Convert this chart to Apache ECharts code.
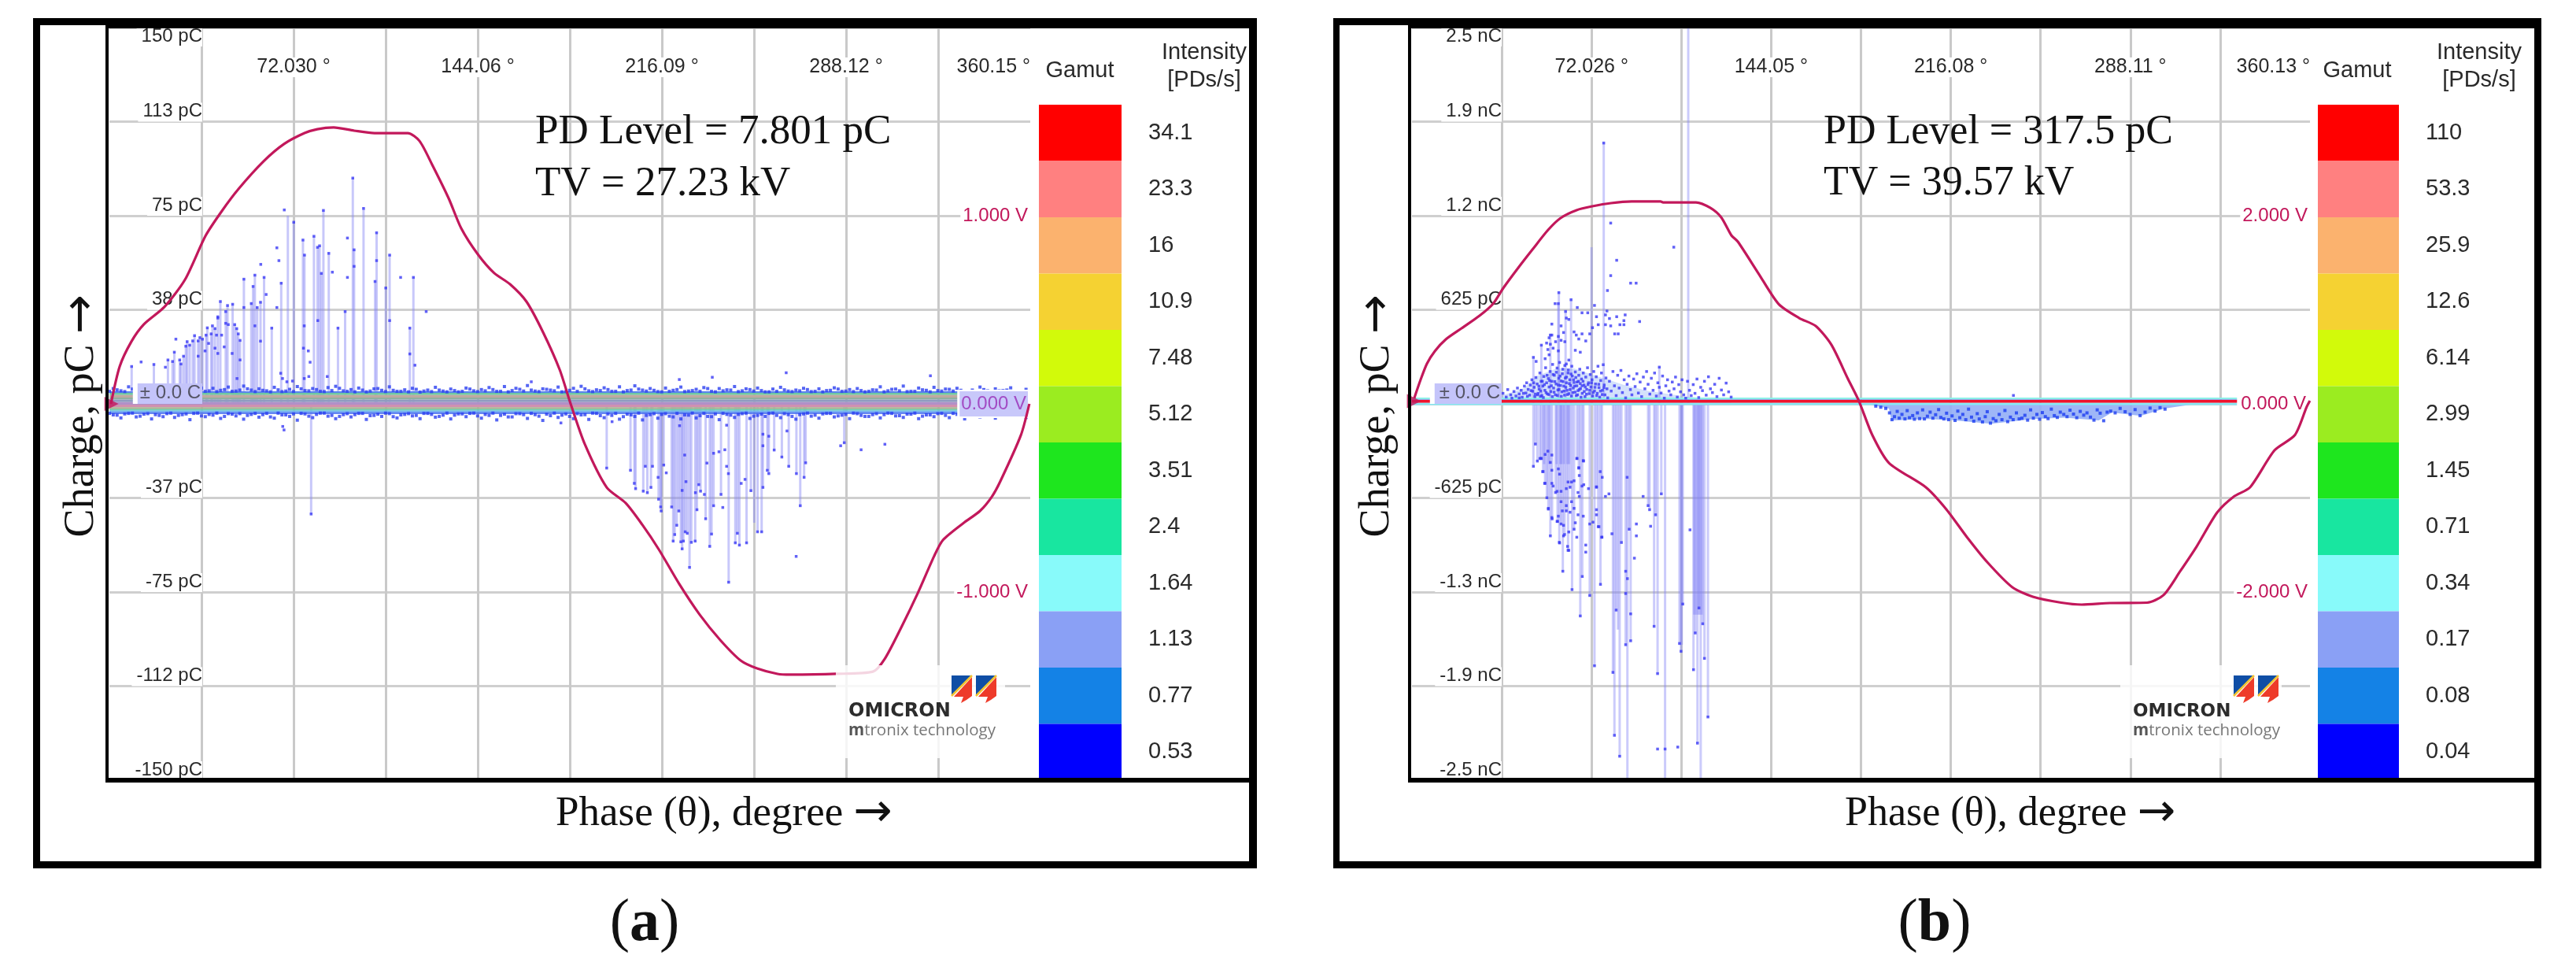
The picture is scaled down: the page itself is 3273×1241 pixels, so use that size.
<!DOCTYPE html>
<html><head><meta charset="utf-8">
<style>html,body{margin:0;padding:0;background:#fff}#c{width:3273px;height:1241px}#c canvas{filter:blur(.6px)}</style>
<script src="https://cdn.jsdelivr.net/npm/echarts@6/dist/echarts.min.js"></script>
</head><body><div id="c"></div>
<script>
// ---------- tick labels ----------
const phaseTicksA = ['', '', '72.030 °', '', '144.06 °', '', '216.09 °', '', '288.12 °', '', '360.15 °'];
const phaseTicksB = ['', '', '72.026 °', '', '144.05 °', '', '216.08 °', '', '288.11 °', '', '360.13 °'];
const chargeTicksA = ['-150 pC', '-112 pC', '-75 pC', '-37 pC', '± 0.0 C', '38 pC', '75 pC', '113 pC', '150 pC'];
const chargeTicksB = ['-2.5 nC', '-1.9 nC', '-1.3 nC', '-625 pC', '± 0.0 C', '625 pC', '1.2 nC', '1.9 nC', '2.5 nC'];
const voltTicksA = ['', '-1.000 V', '0.000 V', '1.000 V', ''];
const voltTicksB = ['', '-2.000 V', '0.000 V', '2.000 V', ''];
const intensityA = ['34.1', '23.3', '16', '10.9', '7.48', '5.12', '3.51', '2.4', '1.64', '1.13', '0.77', '0.53'];
const intensityB = ['110', '53.3', '25.9', '12.6', '6.14', '2.99', '1.45', '0.71', '0.34', '0.17', '0.08', '0.04'];
const gamutColors = ['#ff0000', '#ff8080', '#fbb26e', '#f5d232', '#d2fa0a', '#9bec20', '#1ee61e', '#18e6a0', '#88fafa', '#8aa0f5', '#1482e6', '#0000ff'];

// ---------- test voltage traces [phase deg, volts] ----------
const voltageA = [[0.6,0],[4,.198],[8.6,.331],[13.5,.423],[21.5,.515],[29.6,.661],[37.6,.893],[44,1.025],[50.5,1.142],[60.3,1.289],[68.3,1.381],[76.3,1.439],[81.3,1.46],[87.7,1.469],[95.7,1.452],[103.7,1.439],[116.7,1.439],[121.3,1.397],[126.2,1.272],[132.7,1.092],[137.6,.933],[144.1,.795],[150.5,.695],[156.7,.636],[163.1,.544],[169.6,.381],[176.1,.182],[180.4,0],[185.9,-.213],[194.5,-.444],[201.9,-.527],[208.4,-.642],[214.9,-.774],[222.9,-.958],[230.9,-1.121],[238.9,-1.255],[246.9,-1.364],[253.3,-1.406],[261.3,-1.435],[266.3,-1.439],[284.1,-1.435],[298.6,-1.423],[303.2,-1.356],[309.7,-1.188],[316.1,-1.008],[322.6,-.808],[326,-.724],[334,-.634],[340.5,-.569],[345.1,-.494],[348.5,-.41],[356.5,-.166],[359.8,0]];
const voltageB = [[0.9,.059],[3.5,.259],[6,.427],[9.2,.561],[13.6,.686],[19.9,.803],[27.1,.937],[32.5,1.063],[36.6,1.23],[42.9,1.456],[48.3,1.64],[54.6,1.849],[59.6,1.975],[66,2.059],[72.3,2.1],[79.8,2.134],[88.1,2.151],[99.7,2.151],[100.7,2.142],[113.9,2.142],[119.6,2.084],[124,1.983],[128.1,1.791],[130.7,1.724],[138.9,1.389],[147.1,1.059],[155.3,.912],[161.9,.828],[168.2,.628],[174.8,.268],[179.2,.033],[184.6,-.331],[191.3,-.628],[206.1,-.887],[214.3,-1.121],[222.5,-1.414],[230.7,-1.682],[240.8,-1.95],[249,-2.05],[260.4,-2.113],[268.6,-2.134],[279.9,-2.117],[294.8,-2.113],[301.4,-2.033],[308,-1.782],[314.7,-1.515],[322.9,-1.155],[329.5,-.987],[336.1,-.887],[345.9,-.494],[354.1,-.331],[358.8,-.033],[360.1,.033]];

// ---------- PD pulses with a stem and a dot [phase deg, pC] ----------
const stemsA = [[8.7,14.9],[17.4,15.7],[22.9,17.5],[24.7,16.9],[25.4,20.6],[27.5,17.5],[28,15.9],[29,19],[29.9,23],[30.4,24.8],[31.4,23.4],[32.6,25.1],[33.3,27.2],[34.7,25.1],[35.4,26.4],[36.4,25.8],[37.8,27.4],[38.3,30.3],[39.8,27.9],[40.3,31.1],[41.3,30],[42.4,34.7],[43.4,40.8],[45.5,36.8],[46.2,39.2],[48.2,39.7],[49,31.6],[49.8,30],[50.4,27.9],[51.1,25.3],[52.6,49.7],[55.5,40],[56.2,46.8],[56.9,51.3],[57.8,38.4],[59.1,40.5],[60.5,50.4],[63.5,30.2],[67.2,48.1],[72.1,72.4],[75.7,65.3],[76.3,59.3],[80,66.8],[81.4,62.4],[82.2,63],[82.9,52],[83.7,77.1],[85.8,60],[89.4,30.2],[92.2,36.8],[95.2,90],[95.7,61.4],[99.4,77.9],[103.9,48.8],[104.5,68.2],[108.1,46.2],[109.6,59.3],[117.5,30.2],[118.9,50.4],
[78.9,-43.9],[194.5,-25.6],[203.8,-26.5],[205.3,-31.7],[205.8,-33.8],[208.8,-34.8],[209.6,-24.9],[210.4,-35.4],[211.8,-33.3],[212.4,-24.9],[214.8,-38],[215.6,-41.1],[215.8,-42.7],[216.8,-24.4],[219.9,-41.1],[220.5,-54.7],[221.1,-52.1],[221.9,-48.4],[222.7,-42.7],[223.5,-55],[224,-57.8],[224.5,-54.7],[225.2,-51],[226,-51.6],[226.9,-65.2],[227.6,-55.2],[229.1,-54.7],[229.8,-42.2],[230.5,-32.2],[231.2,-34.8],[233.2,-45.8],[234.8,-56.8],[235.5,-51.9],[236.3,-40.6],[239.2,-36.1],[242.2,-71.1],[244.8,-55.4],[245.6,-51.6],[246.4,-56.3],[249.2,-55.4],[250.9,-34.6],[253.5,-51],[255.1,-51],[255.6,-33.3],[257.3,-26.5],[257.9,-27.8],[260,-18.4],[263,-21.2],[265.7,-24.9],[268.7,-27.8],[270.2,-40.6],[271.7,-29.3],[272.3,-23.5],[287.4,-15.5]];
const stemOnlyA = [[69.8,75],[252.2,-47.4]];
const dotsA = [[12.4,16.7],[21.9,14.6],[26,25.8],[65.5,62.2],[66.3,57.1],[59.2,55.6],[68.4,77.3],[65.5,38.4],[61.3,43.6],[87.2,52.5],[93.1,66.1],[93.1,50.4],[113.9,50.4],[123.9,36.8],[77.8,21.1],[78.5,16.6],[75.9,22.2],[78,10.9],[76.2,10.1],[81.5,33.2],[85.2,10.9],[76.2,31.1],[95.7,54.8],[104.5,57.1],[109.6,33.2],[117.5,19.9],[119.5,15.4],[42.4,34.2],[45.5,32.1],[46.5,31.6],[43.9,27.4],[41.9,27.4],[41.3,22.2],[42.4,20.1],[44.9,22.7],[48,20.1],[38.8,24.1],[37.4,21.1],[34.7,19],[51.1,17.5],[49.9,10.1],[67,12.2],[67.7,10.1],[69.4,8.8],[71.6,9.1],[59.1,25],[56.9,31.1],[52.6,38.4],
[268.6,-60.8],[286,-16.7],[294,-18.3],[239.9,-41.3],[240.7,-18.3],[236.3,-19.7],[238.4,-19.1],[233.7,-23.6],[225,-20.4],[217.8,-27.5],[214.6,-29.3],[225.5,-31],[224,-34.5],[229.2,-35.4],[232.7,-36.1],[247.1,-31.7],[248.6,-30.1],[241.4,-24.9],[242.1,-27.8],[176.6,-7.6],[196.6,-7.1],[223,-8.7],[241.4,-8.5],[265,-10.8],[255.6,-12.1],[255.6,-16.7],[257.9,-12.9],
[264.7,12.4],[235.8,10.6],[222.9,9.7],[321.1,11.2],[165,8.8],[68.3,-10.4],[67.8,-9],[303.3,-16.1]];

// noise fringe around the (a) baseline: readings per 3 degrees, two passes offset by half a step
const fringeTopA = [6.1,5.2,6.8,5.0,5.9,7.2,5.1,6.4,5.3,6.9,5.6,7.4,5.0,6.2,5.4,6.7,5.1,7.1,5.5,6.0,5.2,6.6,4.9,5.8,6.9,5.3,6.1,5.0,6.5,7.0,5.2,5.7,6.3,4.8,6.0,5.4,6.8,5.0,5.6,6.2,4.7,5.5,6.6,5.1,5.9,4.8,6.3,5.2,5.7,6.5,5.0,6.9,5.3,5.8,7.3,5.1,6.0,5.5,6.7,4.9,6.2,7.0,5.2,5.6,6.4,5.0,6.8,5.3,7.2,5.5,6.1,4.9,6.3,5.4,6.7,5.1,5.8,6.5,5.0,6.1,5.6,6.9,5.2,5.7,6.3,4.8,5.9,6.6,5.1,5.5,6.2,4.9,6.0,5.3,6.4,5.0,5.7,6.1,4.8,5.6,6.8,5.2,5.9,7.1,5.0,6.3,5.4,6.6,5.1,5.8,6.2,4.9,5.5,6.7,5.2,6.0,5.3,6.4,5.0,5.8];
const fringeTop2A = [5.0,5.6,4.9,5.9,4.8,5.3,5.8,4.9,6.1,5.0,5.4,4.8,6.3,5.2,4.9,5.7,5.0,5.5,6.0,4.9,5.4,4.8,5.6,5.1,4.9,6.0,5.2,5.7,4.9,5.3,6.2,5.0,4.8,5.5,5.1,6.1,4.9,5.4,5.0,4.8,5.8,5.1,4.9,5.5,4.8,5.3,5.0,5.9,4.9,5.2,5.7,5.0,4.8,6.2,5.1,5.5,4.9,5.8,5.2,4.8,5.4,5.0,6.0,4.9,5.3,5.7,5.0,4.8,5.5,5.9,5.1,5.4,4.8,5.0,5.7,4.9,5.3,5.0,6.1,4.8,5.2,5.5,4.9,6.0,5.1,5.3,4.8,5.0,5.6,4.9,5.2,5.7,5.0,4.8,5.4,5.9,5.1,4.9,5.3,5.0,5.5,4.8,5.8,5.2,4.9,5.0,5.6,4.8,5.3,5.9,5.1,5.4,4.9,5.0,5.7,4.8,5.2,5.5,5.0,4.9];
const fringeBottomA = [-4.4,-5.6,-3.8,-5.2,-4.1,-6.0,-4.6,-3.9,-5.4,-4.3,-6.3,-3.7,-5.1,-4.5,-5.8,-3.9,-4.8,-6.1,-4.2,-5.3,-3.8,-5.7,-4.4,-5.0,-6.5,-4.0,-5.5,-3.7,-4.9,-5.9,-4.3,-5.2,-3.8,-6.2,-4.6,-5.0,-3.9,-5.6,-4.2,-4.8,-5.9,-3.8,-5.3,-4.5,-6.0,-4.0,-5.1,-3.7,-5.7,-4.6,-6.4,-4.1,-5.2,-3.9,-5.8,-4.3,-6.6,-4.7,-5.4,-4.0,-5.9,-4.4,-6.2,-3.8,-5.5,-4.6,-6.1,-4.1,-5.0,-6.4,-4.3,-5.7,-3.9,-5.2,-6.0,-4.5,-5.6,-3.8,-5.1,-6.3,-4.2,-5.4,-3.9,-5.8,-4.6,-5.0,-3.7,-5.5,-4.3,-6.1,-4.0,-4.9,-5.7,-3.8,-5.2,-4.5,-5.9,-3.9,-5.0,-4.3,-5.6,-3.7,-4.8,-5.4,-4.1,-5.9,-4.4,-5.1,-3.8,-5.5,-4.2,-6.0,-4.6,-5.2,-3.9,-5.7,-4.3,-5.0,-3.8,-5.4];
const fringeBottom2A = [-3.8,-4.5,-4.0,-3.7,-4.9,-3.9,-4.3,-5.1,-3.7,-4.6,-4.0,-3.8,-4.8,-4.2,-3.7,-5.0,-4.1,-3.9,-4.6,-3.8,-4.3,-5.2,-3.7,-4.4,-4.0,-3.8,-4.9,-4.2,-3.7,-4.6,-5.0,-3.9,-4.3,-3.8,-4.7,-4.1,-3.7,-5.1,-4.4,-3.9,-4.6,-3.8,-4.2,-5.0,-3.7,-4.5,-4.0,-3.8,-4.8,-4.2,-3.7,-4.6,-5.2,-3.9,-4.3,-3.8,-4.9,-4.1,-3.7,-4.5,-5.0,-3.9,-4.3,-3.7,-4.7,-4.0,-3.8,-5.1,-4.4,-3.7,-4.6,-3.9,-4.2,-4.9,-3.8,-4.4,-3.7,-4.7,-5.0,-4.0,-3.8,-4.5,-4.2,-3.7,-4.9,-4.1,-3.8,-4.6,-3.9,-5.0,-4.3,-3.7,-4.5,-4.0,-3.8,-4.8,-4.2,-3.7,-4.6,-5.0,-3.9,-4.3,-3.8,-4.7,-4.1,-3.7,-4.9,-4.4,-3.9,-4.6,-3.8,-4.2,-5.0,-3.7,-4.5,-4.0,-3.8,-4.8,-4.2,-3.7];
const fringeStepDeg = 3;
// stripes of the saturated baseline of (a): [from pC, to pC]
const baselineA = [[5.0,4.4],[4.4,3.5],[3.5,2.5],[2.5,1.7],[1.7,0.7],[0.7,-0.3],[-0.3,-1.3],[-1.3,-2.1],[-2.1,-2.7],[-2.7,-3.4],[-3.4,-4.0]];
const baselineColorsA = ['#5a82ee','#70c8a0','#c0a8a0','#90b0a0','#8f9cc0','#b090c8','#d090b0','#a8b090','#60d0b0','#70b0f0','#4a70f0'];

const stemsB = [[76.9,1733],[58.9,739],[63.8,692],[61.6,614],[48.7,309],[51.9,390],[55.5,457],[58.7,666],[99.2,244],
[48.7,-415],[49.5,-267],[50.3,-380],[51.3,-363],[51.9,-363],[52.6,-450],[53.4,-528],[54.1,-624],[54.7,-694],[55.5,-877],[56.2,-764],[57.6,-589],[58.4,-781],[59.1,-920],[59.8,-798],[60.5,-1112],[61.2,-868],[61.9,-711],[62.6,-973],[63.4,-554],[64.2,-1234],[65,-833],[66.2,-363],[66.9,-424],[67.5,-1409],[68.3,-1147],[68.8,-380],[71.3,-1273],[73.2,-1740],[74,-554],[74.7,-816],[75.6,-1199],[76.2,-886],[80.6,-1784],[81.2,-2202],[81.9,-1370],[83.3,-2341],[84,-921],[85.7,-1600],[87.1,-833],[87.7,-1574],[94.7,-676],[95.3,-703],[97.1,-1478],[97.7,-737],[98.5,-1792],[100,-598],[107.3,-1592],[107.9,-1644],[108.6,-1330],[112.9,-1766],[113.6,-1522],[114.5,-2254],[115.1,-1356],[116.6,-1461],[117.3,-1691],[118.7,-2080]];
const stemOnlyB = [[110.8,2500],[72,1041],[86.4,-2500],[101.5,-2500],[115.8,-2500],[82.6,-1500],[108.2,-1600],[113.2,-1400],[114,-1400],[114.8,-1400],[115.5,-1400],[116.2,-1400],[53,-400],[55,-400],[58,-400],[59.5,-400],[60,-400],[61,-400],[62.3,-400],[63,-400]];
const dotsB = [[79.7,1201],[105,1041],[82.1,954],[79.7,852],[87.7,802],[89.9,802],[78.4,753],[57.4,666],[73.2,654],[66.3,640],[78.2,617],[68.2,605],[70.5,605],[85.5,591],[74,579],[77.6,591],[82.1,579],[79.2,567],[91.3,547],[85,553],[83.4,526],[85,526],[74.7,526],[77.6,526],[72.4,506],[79.7,518],[81.3,465],[82.7,465],[71.3,465],[68.2,465],[65,478],[65.9,457],[66.9,431],[69.7,418],[65.5,356],[67.5,343],[56.1,530],[61.9,570],[62.9,561],[59.8,518],[60.8,474],[58.7,448],[56.1,457],[55,439],[54,404],[55.5,396],[57.6,413],[59.8,422],[61.3,413],[54.5,361],[56.6,370],[58.7,352],[55,326],[53.4,300],[49.8,282],[62.9,291],[61.9,265],
[98.5,-2293],[101.5,-2293],[106.6,-2280],[111.5,-837],[90,-798],[90,-877],[89.2,-1025],[85.7,-1112],[86.4,-1161],[85.7,-1260],[87.7,-1395],[92.7,-615],[95.7,-813],[86.3,-488],[77.6,-615],[79,-598],[80.2,-863],
[54.5,-314],[56.1,-340],[53.4,-336],[51.7,-363],[55.5,-389],[56.1,-441],[52.4,-450],[58.7,-432],[59.2,-467],[56.1,-528],[53.2,-528],[56.6,-546],[58.2,-581],[59.8,-581],[61.9,-563],[64,-519],[65,-511],[62.6,-519],[66.6,-589],[68.2,-546],[70.8,-563],[67.1,-615],[64,-650],[61.9,-676],[59.8,-650],[65,-694],[66.6,-737],[68.7,-746],[63.4,-720],[60.3,-711],[58.7,-746],[56.1,-755],[54.7,-699],[58.2,-781],[60.8,-807],[62.9,-851],[65.5,-790],[66.1,-886],[60.8,-877],[59.2,-924],[62.9,-973],[62.4,-947],[69.7,-938],[69.7,-985],[71.3,-798],[72.6,-786],[74,-703],[74,-737],[75,-816],[76.1,-886],[75.5,-450],[76.3,-488],[74,-551],[68.9,-537],[67.1,-476],[66.9,-427],[68.7,-377],[66.1,-363],[241.2,56]];
// dense pulses just above the (b) baseline
const clusterB = [[36.5,70],[37.8,45],[38.4,95],[39.6,60],[40.1,38],[40.9,82],[41.7,52],[42.3,105],[43,66],[43.8,90],[44.2,44],[45.1,118],[45.7,72],[46,140],[46.6,96],[47.2,58],[47.5,125],[48.1,160],[48.4,84],[49,110],[49.3,48],[49.7,175],[50.2,132],[50.6,70],[51,98],[51.3,205],[51.8,150],[52.1,55],[52.5,118],[52.9,182],[53.3,90],[53.6,240],[54,140],[54.3,66],[54.7,168],[55,112],[55.4,215],[55.7,82],[56.1,150],[56.4,262],[56.8,105],[57.1,190],[57.5,60],[57.8,132],[58.2,238],[58.5,92],[58.9,170],[59.2,275],[59.6,122],[59.9,50],[60.3,200],[60.6,148],[61,85],[61.3,255],[61.7,110],[62,178],[62.4,62],[62.7,225],[63.1,135],[63.4,95],[63.8,198],[64.1,250],[64.5,75],[64.8,160],[65.2,118],[65.5,212],[65.9,55],[66.2,145],[66.6,88],[66.9,190],[67.3,230],[67.6,102],[68,165],[68.3,70],[68.7,205],[69,125],[69.4,48],[69.7,178],[70.1,96],[70.4,240],[70.8,140],[71.1,68],[71.5,195],[71.8,112],[72.2,160],[72.5,52],[72.9,215],[73.2,86],[73.6,132],[73.9,180],[74.3,70],[74.6,250],[75,108],[75.3,45],[75.7,155],[76,205],[76.4,90],[76.7,260],[77.1,125],[77.4,60],[77.8,172],[78.2,100],[78.5,40],
[79.2,150],[79.9,85],[80.6,215],[81.2,120],[81.9,55],[82.5,190],[83.1,105],[83.8,222],[84.4,75],[85.1,160],[85.7,40],[86.3,130],[87,185],[87.6,95],[88.2,60],[88.9,165],[89.5,115],[90.2,200],[90.8,72],[91.5,145],[92.1,48],[92.8,178],[93.4,100],[94.1,215],[94.7,130],[95.4,65],[96,170],[96.7,90],[97.3,205],[98,52],[98.6,140],[99.2,110],[99.9,72],[100.5,185],[101.2,38],[101.8,120],[102.5,160],[103.1,85],[103.8,60],[104.4,145],[105.1,100],[105.7,178],[106.4,45],[107,128],[107.7,80],[108.3,160],[109,60],[109.8,38],[110.5,150],[111.3,90],[112,55],[112.8,128],[113.5,70],[114.3,165],[115,42],[115.8,110],[116.5,88],[117.3,150],[118,58],[118.9,180],[119.7,100],[120.5,75],[121.4,130],[122.3,48],[123.2,170],[124.1,92],[125,60],[126,138],[127,80],[128,45],
[50.4,60],[50.9,118],[51.6,85],[52.3,150],[52.7,42],[53.1,128],[53.8,75],[54.2,190],[54.9,62],[55.2,155],[55.9,120],[56.3,48],[56.6,195],[57,78],[57.3,148],[57.9,210],[58.3,56],[58.7,125],[59,95],[59.4,185],[59.8,152],[60.1,80],[60.5,230],[60.9,118],[61.2,58],[61.5,172],[61.9,140],[62.2,90],[62.6,205],[62.9,68],[63.3,160],[63.6,122],[64,52],[64.3,185],[64.7,105],[65,142],[65.4,78],[65.7,175],[66.1,120],[66.4,60],[66.8,150],[67.1,95],[67.5,135],[67.8,44],[68.2,120],[68.6,150],[69.1,82],[69.5,112],[70,64],[70.6,128],[71.3,90],[72,140],[72.7,75],[73.4,110],[74.1,55],[74.9,130],[75.6,85],[76.3,62],[77,108],[43,40],[44.7,70],[46.3,50],[47.8,88],[49.5,65],[48.8,140],[51.5,50]];
// pale haze under the pulses above the (b) baseline
const clusterEdgeB = [[36,55],[45,105],[50,185],[58,235],[65,235],[72,195],[78,165],[85,125],[95,85],[110,48],[128,20]];
// low-amplitude lobe below the (b) baseline
const lobeEdgeB = [[183.9,-5],[191.3,-31],[192.3,-110],[207.1,-101],[217.6,-110],[232.3,-132],[249.1,-101],[261.8,-92],[275.4,-110],[280.7,-58],[292.3,-80],[301.7,-31],[312.3,-5]];
const lobeDotsB = [[186,-15],[188,-22],[190,-30],[191.5,-60],[192.5,-105],[193.5,-85],[194.6,-50],[195.4,-95],[196.5,-70],[197.7,-100],[198.6,-45],[199.5,-92],[200.8,-78],[201.5,-102],[202.7,-60],[203.6,-98],[204.8,-40],[205.5,-100],[206.7,-82],[207.8,-55],[208.9,-95],[210,-72],[211.2,-38],[212.1,-90],[213.3,-100],[214.4,-62],[215.2,-105],[216.6,-80],[217.8,-110],[218.9,-48],[219.7,-92],[220.9,-70],[222.1,-105],[223.2,-35],[224.4,-88],[225.3,-115],[226.7,-65],[227.5,-100],[228.8,-120],[229.9,-85],[230.7,-52],[232,-128],[233.1,-98],[234.2,-112],[235.5,-70],[236.6,-105],[237.8,-44],[238.9,-118],[240,-88],[241.1,-105],[242.4,-60],[243.5,-100],[244.6,-95],[245.8,-76],[246.9,-108],[248.1,-40],[249.2,-95],[250.6,-70],[251.7,-102],[252.8,-58],[254,-85],[255.1,-98],[256.4,-35],[257.6,-78],[258.8,-90],[260,-55],[261.4,-70],[262.7,-85],[263.9,-42],[265.3,-68],[266.6,-92],[268,-50],[269.4,-75],[270.7,-60],[272.1,-88],[273.5,-108],[274.8,-40],[276,-62],[277.4,-112],[278.8,-55],[280.2,-48],[282,-60],[284,-30],[286,-52],[288,-70],[290,-38],[292,-78],[294,-55],[296,-28],[298,-48],[300,-25],[302,-35]];
const baselineB = [[42,30],[30,26],[26,6],[6,-8]];
const baselineColorsB = ['#8cf0e8','#7c8ce8','#f0142c','#88e8f4'];

// ---------- layout ----------
const PLOT_TOP = 35, PLOT_BOTTOM = 991, PLOT_H = PLOT_BOTTOM - PLOT_TOP;
const panels = [
  {left:139, right:1309, xMax:360.15, xInt:36.015, yMax:150, yInt:37.5, vMax:2, labelOffset:-118, gamutL:1320, gamutR:1425,
   phase:phaseTicksA, charge:chargeTicksA, volt:voltTicksA, intens:intensityA, voltage:voltageA, stems:stemsA, stemOnly:stemOnlyA, dots:dotsA,
   zeroPad:[0,2,2,3], zeroBg:'#c4c4fa', zeroVoltBg:'#c8c8fa', zeroVoltColor:'#a24cc4', stemAlpha:.45},
  {left:1794, right:2935, xMax:360.13, xInt:36.013, yMax:2500, yInt:625, vMax:4, labelOffset:-114, gamutL:2945, gamutR:3048,
   phase:phaseTicksB, charge:chargeTicksB, volt:voltTicksB, intens:intensityB, voltage:voltageB, stems:stemsB, stemOnly:stemOnlyB, dots:dotsB.concat(clusterB),
   zeroPad:[0,2,2,6], zeroBg:'#c4c4fa', zeroVoltBg:'#fff', zeroVoltColor:'#c2185b', stemAlpha:.42}
];
const SANS = '"Liberation Sans", Arial, sans-serif', SERIF = '"Liberation Serif", "Times New Roman", serif', ARROW = '"DejaVu Sans", sans-serif';
const grid = [], xAxis = [], yAxis = [], series = [];

function bandRender(colors){
  return function(params, api){
    const a = api.coord([api.value(0), api.value(2)]), b = api.coord([api.value(1), api.value(3)]);
    return {type:'rect', shape:{x:a[0], y:Math.min(a[1],b[1]), width:b[0]-a[0], height:Math.abs(b[1]-a[1])},
            style:{fill:colors[params.dataIndex]}};
  };
}

panels.forEach((p, k) => {
  grid.push({left:p.left, top:PLOT_TOP, width:p.right-p.left, height:PLOT_H});
  xAxis.push({type:'value', gridIndex:k, min:0, max:p.xMax, interval:p.xInt, position:'top',
    axisLine:{show:false}, axisTick:{show:false},
    splitLine:{show:true, showMinLine:false, showMaxLine:false, lineStyle:{color:'#c9c9c9', width:3}},
    axisLabel:{inside:true, margin:38, fontFamily:SANS, fontSize:25, color:'#2a2a2a', backgroundColor:'#fff',
      alignMaxLabel:'right', showMaxLabel:true, formatter:(v,i)=>p.phase[i]||''}});
  const yBase = yAxis.length;
  // charge labels
  yAxis.push({type:'value', gridIndex:k, min:-p.yMax, max:p.yMax, interval:p.yInt, position:'left', offset:p.labelOffset, z:4,
    axisLine:{show:false}, axisTick:{show:false}, splitLine:{show:false},
    axisLabel:{margin:0, fontFamily:SANS, fontSize:24, lineHeight:22, color:'#2a2a2a', backgroundColor:'#fff', padding:[0,0,2,6],
      verticalAlign:'bottom', verticalAlignMaxLabel:'top', showMaxLabel:true, showMinLabel:true,
      formatter:(v,i)=> i===4 ? '{z|'+p.charge[i]+'}' : p.charge[i],
      rich:{z:{fontFamily:SANS, fontSize:24, lineHeight:22, color:'#555566', backgroundColor:p.zeroBg, padding:p.zeroPad}}}});
  // voltage labels
  yAxis.push({type:'value', gridIndex:k, min:-p.vMax, max:p.vMax, interval:p.vMax/2, position:'right', z:4,
    axisLine:{show:false}, axisTick:{show:false}, splitLine:{show:false},
    axisLabel:{inside:true, margin:0, fontFamily:SANS, fontSize:24, color:'#c2185b', backgroundColor:'#fff', padding:[2,3,2,3],
      formatter:(v,i)=> i===2 ? '{z|'+p.volt[i]+'}' : p.volt[i],
      rich:{z:{fontFamily:SANS, fontSize:24, color:p.zeroVoltColor, backgroundColor:p.zeroVoltBg, padding:[4,2,4,2]}}}});
  // horizontal grid
  yAxis.push({type:'value', gridIndex:k, min:-p.yMax, max:p.yMax, interval:p.yInt, position:'left', z:0,
    axisLine:{show:false}, axisTick:{show:false}, axisLabel:{show:false},
    splitLine:{show:true, showMinLine:false, showMaxLine:true, lineStyle:{color:'#cfcfcf', width:3}}});
  const chargeAxis = yBase, voltAxis = yBase+1;

  series.push({type:'bar', name:'stems', xAxisIndex:k, yAxisIndex:chargeAxis, barWidth:3, z:2, silent:true,
    data:p.stems.concat(p.stemOnly), itemStyle:{color:'rgba(132,132,245,'+p.stemAlpha+')'}});
  series.push({type:'scatter', name:'pulses', xAxisIndex:k, yAxisIndex:chargeAxis, symbol:'rect', symbolSize:3.5, z:3, silent:true,
    data:p.stems.concat(p.dots), itemStyle:{color:'#3a3af5'}});

  if (k === 0) {
    series.push({type:'custom', name:'baseline', xAxisIndex:0, yAxisIndex:chargeAxis, z:3, silent:true, clip:true,
      encode:{x:[0,1], y:[2,3]}, renderItem:bandRender(baselineColorsA),
      data:baselineA.map(s=>[0,p.xMax,s[1],s[0]])});
    [[fringeTopA,1.5],[fringeBottomA,1.5],[fringeTop2A,0],[fringeBottom2A,0]].forEach(f=>{
      series.push({type:'scatter', name:'fringe', xAxisIndex:0, yAxisIndex:chargeAxis, z:3, silent:true,
        symbol:'rect', symbolSize:4, itemStyle:{color:'#2a3ef0'},
        data:f[0].map((y,i)=>[i*fringeStepDeg+f[1], y])});
    });
  } else {
    series.push({type:'line', name:'haze', xAxisIndex:1, yAxisIndex:chargeAxis, z:2, silent:true, showSymbol:false,
      lineStyle:{width:0}, areaStyle:{color:'#8fb0f5', opacity:.38, origin:0}, data:clusterEdgeB});
    series.push({type:'line', name:'lobe', xAxisIndex:1, yAxisIndex:chargeAxis, z:2, silent:true, showSymbol:false,
      lineStyle:{width:0}, areaStyle:{color:'#93aef6', opacity:.9, origin:0}, data:lobeEdgeB});
    series.push({type:'scatter', name:'lobe pulses', xAxisIndex:1, yAxisIndex:chargeAxis, symbol:'rect', symbolSize:4, z:3, silent:true,
      itemStyle:{color:'#1c3cf0'}, data:lobeDotsB});
    series.push({type:'custom', name:'baseline', xAxisIndex:1, yAxisIndex:chargeAxis, z:3, silent:true,
      encode:{x:[0,1], y:[2,3]}, renderItem:bandRender(baselineColorsB),
      data:baselineB.map(s=>[0,p.xMax,s[1],s[0]])});
  }
  series.push({type:'line', name:'test voltage', xAxisIndex:k, yAxisIndex:voltAxis, z:5, silent:true, showSymbol:false, clip:false, smooth:.25,
    lineStyle:{color:'#c2185b', width:3.2}, data:p.voltage});
  series.push({type:'scatter', name:'start', xAxisIndex:k, yAxisIndex:voltAxis, z:5, silent:true, symbol:'triangle', symbolRotate:-90, symbolSize:18,
    itemStyle:{color:'#c2185b'}, data:[[0.8, k===0?0:0.03]]});
});

// gamut colour scales
panels.forEach((p, k) => {
  const g = grid.length, yi = yAxis.length, xi = xAxis.length;
  grid.push({left:p.gamutL, top:133, width:p.gamutR-p.gamutL, height:PLOT_BOTTOM-133});
  xAxis.push({type:'value', gridIndex:g, min:0, max:1, show:false});
  yAxis.push({type:'category', gridIndex:g, inverse:true, position:'right', data:p.intens,
    axisLine:{show:false}, axisTick:{show:false}, splitLine:{show:false},
    axisLabel:{margin:34, align:'left', fontFamily:SANS, fontSize:29, color:'#2a2a2a', interval:0}});
  series.push({type:'bar', name:'gamut', xAxisIndex:xi, yAxisIndex:yi, barWidth:'100%', silent:true,
    data:p.intens.map((t,i)=>({value:1, itemStyle:{color:gamutColors[i]}}))});
});

// ---------- decorations ----------
const Z = 100;
const T = (text,x,y,fontSize,family,extra={}) => Object.assign({type:'text', x, y, z:Z, silent:true,
  style:Object.assign({text, fontSize, fontFamily:family, fill:'#111', align:'center', verticalAlign:'middle'}, extra.style||{})},
  extra.el||{});
const R = (x,y,w,h,fill,opacity=1) => ({type:'rect', z:Z-1, silent:true, shape:{x,y,width:w,height:h}, style:{fill,opacity}});
const axisRich = (size) => ({t:{fontFamily:SERIF,fontSize:size,fill:'#111'}, a:{fontFamily:ARROW,fontSize:size+6,fill:'#111'}});

function logo(x0, y0){
  const out = [];
  [0, 31].forEach(dx=>{
    const o = x0+dx;
    out.push({type:'polygon', z:Z, silent:true, shape:{points:[[o+26,y0+2],[o+26,y0+26],[o+19,y0+31],[o+12,y0+35],[o+15,y0+27],[o+3,y0+27]]}, style:{fill:'#ee3b2a'}});
    out.push({type:'polygon', z:Z, silent:true, shape:{points:[[o,y0],[o+26,y0],[o,y0+26]]}, style:{fill:'#0f4ea5'}});
    out.push({type:'line', z:Z, silent:true, shape:{x1:o,y1:y0+26,x2:o+26,y2:y0}, style:{stroke:'#f4c430', lineWidth:2.5}});
  });
  return out;
}
const mtronixRich = {m:{fontFamily:'"Open Sans", sans-serif',fontSize:20.5,fontWeight:'bold',fill:'#555'}, r:{fontFamily:'"Open Sans", sans-serif',fontSize:20.5,fill:'#777'}};
const captionRich = {n:{fontFamily:SERIF,fontSize:76,fill:'#111'},b:{fontFamily:SERIF,fontSize:76,fontWeight:'bold',fill:'#111'}};

const graphicEls = [
  // panel (a) frame
  R(42,23,1555,9,'#000'), R(42,23,9,1080,'#000'), R(1587,23,10,1080,'#000'), R(42,1094,1555,9,'#000'),
  R(134,32,4,962,'#000'), R(134,32,1453,4,'#000'), R(134,988,1453,6,'#000'),
  // panel (b) frame
  R(1694,23,1535,9,'#000'), R(1694,23,8,1080,'#000'), R(3220,23,9,1080,'#000'), R(1694,1094,1535,9,'#000'),
  R(1789,32,4,962,'#000'), R(1789,32,1431,4,'#000'), R(1789,988,1431,6,'#000'),
  // logo veils
  R(1062,845,215,118,'#fff',.82), R(2694,845,205,118,'#fff',.82),
  ...logo(1209,858), ...logo(2838,858),
  T('OMICRON',1078,904,24,ARROW,{style:{align:'left',fontWeight:'bold',fill:'#2c2c2c'}}),
  T('{m|m}{r|tronix technology}',1078,928,20.5,'"Open Sans", sans-serif',{style:{align:'left',rich:mtronixRich}}),
  T('OMICRON',2710,904,23,ARROW,{style:{align:'left',fontWeight:'bold',fill:'#2c2c2c'}}),
  T('{m|m}{r|tronix technology}',2710,928,20.5,'"Open Sans", sans-serif',{style:{align:'left',rich:mtronixRich}}),
  // annotations
  T('PD Level = 7.801 pC',680,168,53,SERIF,{style:{align:'left'}}),
  T('TV = 27.23 kV',680,234,53,SERIF,{style:{align:'left'}}),
  T('PD Level = 317.5 pC',2317,168,52,SERIF,{style:{align:'left'}}),
  T('TV = 39.57 kV',2317,233,52,SERIF,{style:{align:'left'}}),
  // axis titles
  T('{t|Charge, pC }{a|→}',104,528,54,SERIF,{el:{rotation:Math.PI/2},style:{rich:axisRich(54)}}),
  T('{t|Charge, pC }{a|→}',1750,528,54,SERIF,{el:{rotation:Math.PI/2},style:{rich:axisRich(54)}}),
  T('{t|Phase (θ), degree }{a|→}',920,1034,54,SERIF,{style:{rich:axisRich(53)}}),
  T('{t|Phase (θ), degree }{a|→}',2554,1034,53,SERIF,{style:{rich:axisRich(52)}}),
  // gamut heads
  T('Gamut',1372,90,29,SANS,{style:{fill:'#2a2a2a'}}),
  T('Intensity',1530,67,29,SANS,{style:{fill:'#2a2a2a'}}),
  T('[PDs/s]',1530,102,29,SANS,{style:{fill:'#2a2a2a'}}),
  T('Gamut',2995,90,29,SANS,{style:{fill:'#2a2a2a'}}),
  T('Intensity',3150,67,29,SANS,{style:{fill:'#2a2a2a'}}),
  T('[PDs/s]',3150,102,29,SANS,{style:{fill:'#2a2a2a'}}),
  // captions
  T('{n|(}{b|a}{n|)}',819,1174,76,SERIF,{style:{rich:captionRich}}),
  T('{n|(}{b|b}{n|)}',2458,1174,76,SERIF,{style:{rich:captionRich}})
];

const chart = echarts.init(document.getElementById('c'), null, {renderer:'canvas', width:3273, height:1241});
chart.setOption({
  animation:false, backgroundColor:'#fff', tooltip:{show:false}, legend:{show:false},
  grid, xAxis, yAxis, series, graphic:{elements:graphicEls}
});
</script></body></html>
